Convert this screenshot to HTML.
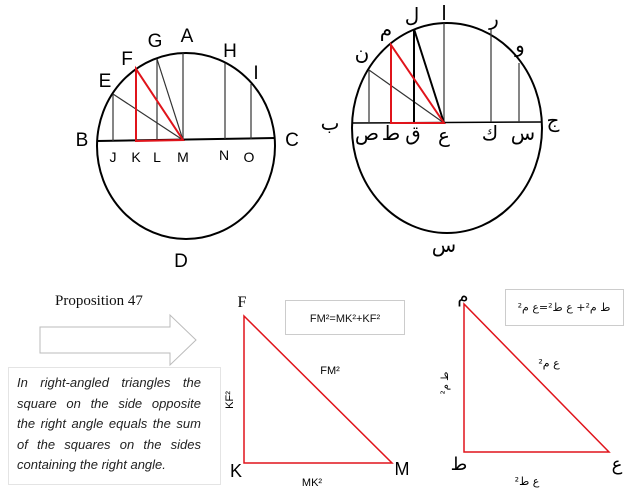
<!DOCTYPE html>
<html><head><meta charset="utf-8"><style>
body{margin:0;width:628px;height:495px;background:#fff;overflow:hidden;position:relative}
svg{position:absolute;left:0;top:0}
.t{position:absolute;left:17px;top:373px;width:184px;font:italic 13px/20.6px "Liberation Sans",sans-serif;color:#222}
.t div{text-align:justify;text-align-last:justify;white-space:nowrap}
.t div.l{text-align-last:left}
</style></head><body>
<svg width="628" height="495" viewBox="0 0 628 495" font-family="Liberation Sans, DejaVu Sans, sans-serif">
<ellipse cx="186" cy="146" rx="89" ry="93" fill="none" stroke="#000" stroke-width="2"/>
<line x1="97" y1="141" x2="275" y2="138" stroke="#000" stroke-width="2"/>
<g stroke="#333" stroke-width="1.2">
<line x1="183" y1="53" x2="183" y2="140"/>
<line x1="113" y1="94" x2="113" y2="141"/>
<line x1="113" y1="94" x2="183" y2="140"/>
<line x1="157" y1="59" x2="157" y2="140"/>
<line x1="157" y1="59" x2="183" y2="140"/>
<line x1="225" y1="63" x2="225" y2="139"/>
<line x1="251" y1="84" x2="251" y2="139"/>
</g>
<polygon points="136,69 136,141 183,140" fill="none" stroke="#e0141b" stroke-width="2"/>
<g font-size="19" fill="#000" text-anchor="middle">
<text x="187" y="42">A</text><text x="155" y="47">G</text><text x="127" y="65">F</text><text x="105" y="87">E</text>
<text x="230" y="57">H</text><text x="256" y="79">I</text><text x="82" y="146">B</text><text x="292" y="146">C</text>
<text x="181" y="267">D</text>
</g>
<g font-size="14" fill="#000" text-anchor="middle">
<text x="113" y="162">J</text><text x="136" y="162">K</text><text x="157" y="162">L</text><text x="183" y="162">M</text>
<text x="224" y="160">N</text><text x="249" y="162">O</text>
</g>
<ellipse cx="447" cy="128" rx="95" ry="105" fill="none" stroke="#000" stroke-width="2"/>
<line x1="352" y1="123" x2="542" y2="122" stroke="#000" stroke-width="1.5"/>
<g stroke="#333" stroke-width="1.2">
<line x1="444" y1="23" x2="444" y2="123"/>
<line x1="369" y1="70" x2="369" y2="123"/>
<line x1="369" y1="70" x2="444" y2="123"/>
<line x1="491" y1="29" x2="491" y2="122"/>
<line x1="519" y1="63" x2="519" y2="122"/>
</g>
<g stroke="#000" stroke-width="2"><line x1="414" y1="29" x2="414" y2="123"/><line x1="414" y1="29" x2="444" y2="123"/></g>
<polygon points="391,45 391,123 444,123" fill="none" stroke="#e0141b" stroke-width="2"/>
<g font-size="20" fill="#000" text-anchor="middle" font-family="DejaVu Sans, sans-serif">
<text x="330" y="130">ب</text><text x="553" y="127">ج</text><text x="412" y="22">ل</text><text x="444" y="20">ا</text>
<text x="494" y="25">ر</text><text x="520" y="52">و</text><text x="386" y="36">م</text><text x="362" y="60">ن</text>
<text x="367" y="140">ص</text><text x="391" y="140">ط</text><text x="413" y="140">ق</text><text x="444" y="142">ع</text>
<text x="490" y="140">ك</text><text x="523" y="140">س</text><text x="444" y="252">س</text>
</g>
<polygon points="40,327 170,327 170,315 196,340 170,365 170,353 40,353" fill="none" stroke="#bbb" stroke-width="1"/>
<text x="55" y="305" font-family="Liberation Serif, serif" font-size="15" fill="#111">Proposition 47</text>
<rect x="8.5" y="367.5" width="212" height="117" fill="#fff" stroke="#e4e4e4"/>
<rect x="285.5" y="300.5" width="119" height="34" fill="#fff" stroke="#ccc"/>
<text x="345" y="322" font-size="11" text-anchor="middle" fill="#111">FM²=MK²+KF²</text>
<polygon points="244,316 244,463 392,463" fill="none" stroke="#e0141b" stroke-width="1.5"/>
<text x="242" y="307" font-family="Liberation Serif, serif" font-size="16" text-anchor="middle">F</text>
<text x="236" y="477" font-size="18" text-anchor="middle">K</text>
<text x="402" y="475" font-size="18" text-anchor="middle">M</text>
<text x="330" y="374" font-size="11" text-anchor="middle">FM²</text>
<text x="312" y="486" font-size="11" text-anchor="middle">MK²</text>
<text transform="translate(233,400) rotate(-90)" font-size="11" text-anchor="middle">KF²</text>
<rect x="505.5" y="289.5" width="118" height="36" fill="#fff" stroke="#ccc"/>
<text x="564" y="311" font-size="11" text-anchor="middle" direction="rtl" fill="#111" font-family="DejaVu Sans, sans-serif">ط م²+ ع ط²=ع م²</text>
<polygon points="464,304 464,452 609,452" fill="none" stroke="#e0141b" stroke-width="1.5"/>
<g font-family="DejaVu Sans, sans-serif" fill="#000" text-anchor="middle">
<text x="463" y="302" font-size="18">م</text>
<text x="459" y="470" font-size="18">ط</text>
<text x="617" y="470" font-size="18">ع</text>
<text x="549" y="367" font-size="11">ع م²</text>
<text x="527" y="485" font-size="11">ع ط²</text>
<text transform="translate(448,383) rotate(-90)" font-size="10">ط م²</text>
</g>
</svg>
<div class="t">
<div>In right-angled triangles the</div>
<div>square on the side opposite</div>
<div>the right angle equals the sum</div>
<div>of the squares on the sides</div>
<div class="l">containing the right angle.</div>
</div>
</body></html>
